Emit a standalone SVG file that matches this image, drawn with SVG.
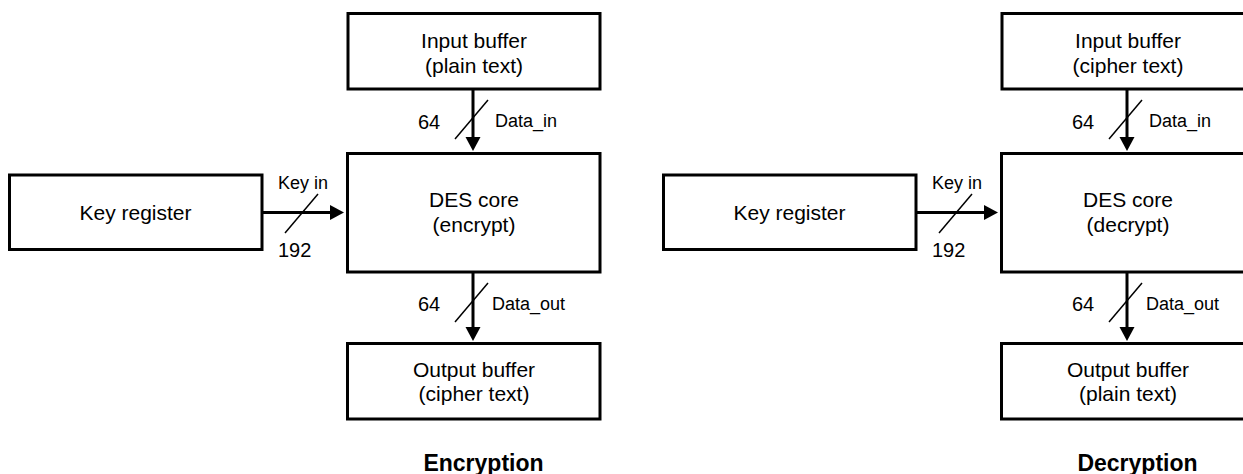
<svg xmlns="http://www.w3.org/2000/svg" width="1243" height="474" viewBox="0 0 1243 474">
  <style>
    .box { fill: #ffffff; stroke: #000000; stroke-width: 3; }
    .t { font-family: "Liberation Sans", Arial, sans-serif; font-size: 21px; fill: #000; text-anchor: middle; }
    .lbl { font-family: "Liberation Sans", Arial, sans-serif; font-size: 18px; fill: #000; }
    .num { font-family: "Liberation Sans", Arial, sans-serif; font-size: 20px; fill: #000; }
    .title { font-family: "Liberation Sans", Arial, sans-serif; font-size: 23px; font-weight: bold; fill: #000; text-anchor: middle; }
    .wire { stroke: #000; stroke-width: 3; fill: none; }
    .slash { stroke: #000; stroke-width: 1.5; fill: none; }
  </style>
  <defs>
    <marker id="arrow" markerUnits="userSpaceOnUse" markerWidth="15" markerHeight="16" refX="4" refY="7.5" orient="auto" overflow="visible">
      <path d="M0,0 L14,7.5 L0,15 Z" fill="#000"/>
    </marker>
  </defs>
  <rect width="1243" height="474" fill="#ffffff"/>

  <!-- Encryption panel -->
  <g id="enc-input">
    <rect class="box" x="348" y="13.5" width="252" height="75.5"/>
    <text class="t" x="474" y="48">Input buffer</text>
    <text class="t" x="474" y="73">(plain text)</text>
  </g>
  <g id="enc-core">
    <rect class="box" x="347.5" y="153.5" width="252.5" height="118.5"/>
    <text class="t" x="474" y="207">DES core</text>
    <text class="t" x="474" y="232">(encrypt)</text>
  </g>
  <g id="enc-key">
    <rect class="box" x="9.5" y="175" width="252.5" height="74.5"/>
    <text class="t" x="135.5" y="220">Key register</text>
  </g>
  <g id="enc-output">
    <rect class="box" x="347.5" y="343.5" width="252.5" height="75.5"/>
    <text class="t" x="474" y="377">Output buffer</text>
    <text class="t" x="474" y="401">(cipher text)</text>
  </g>
  <text id="enc-title" class="title" x="483.5" y="471">Encryption</text>

  <!-- Decryption panel -->
  <g id="dec-input">
    <rect class="box" x="1002" y="13.5" width="252" height="75.5"/>
    <text class="t" x="1128" y="48">Input buffer</text>
    <text class="t" x="1128" y="73">(cipher text)</text>
  </g>
  <g id="dec-core">
    <rect class="box" x="1001.5" y="153.5" width="252.5" height="118.5"/>
    <text class="t" x="1128" y="207">DES core</text>
    <text class="t" x="1128" y="232">(decrypt)</text>
  </g>
  <g id="dec-key">
    <rect class="box" x="663.5" y="175" width="252.5" height="74.5"/>
    <text class="t" x="789.5" y="220">Key register</text>
  </g>
  <g id="dec-output">
    <rect class="box" x="1001.5" y="343.5" width="252.5" height="75.5"/>
    <text class="t" x="1128" y="377">Output buffer</text>
    <text class="t" x="1128" y="401">(plain text)</text>
  </g>
  <text id="dec-title" class="title" x="1137.5" y="471">Decryption</text>

  <!-- Connectors -->
  <g id="connectors">
    <!-- Encryption -->
    <line class="wire" x1="473" y1="89" x2="473" y2="141" marker-end="url(#arrow)"/>
    <line class="slash" x1="455" y1="139" x2="488" y2="100"/>
    <text class="num" x="418" y="129">64</text>
    <text class="lbl" x="495" y="127">Data_in</text>

    <line class="wire" x1="262" y1="212.5" x2="334" y2="212.5" marker-end="url(#arrow)"/>
    <line class="slash" x1="285" y1="233" x2="318" y2="194"/>
    <text class="lbl" x="278" y="189">Key in</text>
    <text class="num" x="278" y="257">192</text>

    <line class="wire" x1="473" y1="272" x2="473" y2="331" marker-end="url(#arrow)"/>
    <line class="slash" x1="455" y1="322" x2="488" y2="283"/>
    <text class="num" x="418" y="311">64</text>
    <text class="lbl" x="492" y="310">Data_out</text>

    <!-- Decryption -->
    <line class="wire" x1="1127" y1="89" x2="1127" y2="141" marker-end="url(#arrow)"/>
    <line class="slash" x1="1109" y1="139" x2="1142" y2="100"/>
    <text class="num" x="1072" y="129">64</text>
    <text class="lbl" x="1149" y="127">Data_in</text>

    <line class="wire" x1="916" y1="212.5" x2="988" y2="212.5" marker-end="url(#arrow)"/>
    <line class="slash" x1="939" y1="233" x2="972" y2="194"/>
    <text class="lbl" x="932" y="189">Key in</text>
    <text class="num" x="932" y="257">192</text>

    <line class="wire" x1="1127" y1="272" x2="1127" y2="331" marker-end="url(#arrow)"/>
    <line class="slash" x1="1109" y1="322" x2="1142" y2="283"/>
    <text class="num" x="1072" y="311">64</text>
    <text class="lbl" x="1146" y="310">Data_out</text>
  </g>
</svg>
